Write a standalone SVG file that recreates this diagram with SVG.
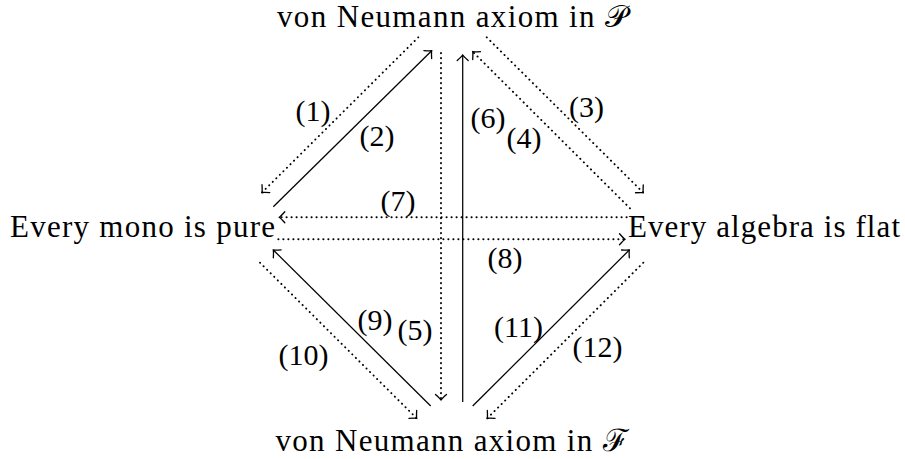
<svg xmlns="http://www.w3.org/2000/svg" width="905" height="459" viewBox="0 0 905 459">
<style>
text{font-family:"Liberation Serif","DejaVu Serif",serif;fill:#000}
.node{font-size:31px}
.lab{font-size:30px;text-anchor:middle}
.solid{fill:none;stroke:#000;stroke-width:1.25}
.dot{fill:none;stroke:#000;stroke-width:1.9;stroke-linecap:round;stroke-dasharray:0.2 4.8}
</style>
<defs>
<marker id="tip" markerUnits="userSpaceOnUse" markerWidth="16" markerHeight="16" viewBox="-8 -8 16 16" refX="0" refY="0" orient="auto">
<path d="M-5.5,-5.5 Q-1.5,-1 0,0 Q-1.5,1 -5.5,5.5" fill="none" stroke="#000" stroke-width="1.3" stroke-linecap="round"/>
</marker>
</defs>
<g id="node-top"><text class="node" x="452" y="27" text-anchor="middle" textLength="350">von Neumann axiom in 𝒫</text></g>
<g id="node-left"><text class="node" x="10" y="237" textLength="265">Every mono is pure</text></g>
<g id="node-right"><text class="node" x="628" y="237" textLength="272">Every algebra is flat</text></g>
<g id="node-bottom"><text class="node" x="452" y="451" text-anchor="middle" textLength="353">von Neumann axiom in ℱ</text></g>
<g id="connectors">
<path class="dot" d="M418.3,37.3 L262,192.5" marker-end="url(#tip)"/>
<path class="solid" d="M273.3,206.7 L431.7,50.7" marker-end="url(#tip)"/>
<path class="dot" d="M486.7,37.3 L643.3,192.7" marker-end="url(#tip)"/>
<path class="dot" d="M630,208.3 L472.7,51.7" marker-end="url(#tip)"/>
<path class="dot" d="M441,53 L441,400" marker-end="url(#tip)"/>
<path class="solid" d="M462.7,402 L462.7,55" marker-end="url(#tip)"/>
<path class="dot" d="M626.7,217.3 L279.3,217.3" marker-end="url(#tip)"/>
<path class="dot" d="M278.3,239.3 L625,239.3" marker-end="url(#tip)"/>
<path class="solid" d="M430.7,406 L273.3,250" marker-end="url(#tip)"/>
<path class="dot" d="M260,262.7 L416.7,418.3" marker-end="url(#tip)"/>
<path class="solid" d="M472.7,406 L629.3,250" marker-end="url(#tip)"/>
<path class="dot" d="M643.3,262.7 L487.3,418.3" marker-end="url(#tip)"/>
</g>
<g id="labels">
<text class="lab" x="313" y="121">(1)</text>
<text class="lab" x="377" y="146">(2)</text>
<text class="lab" x="586.5" y="117">(3)</text>
<text class="lab" x="524" y="148">(4)</text>
<text class="lab" x="415" y="340">(5)</text>
<text class="lab" x="488" y="128">(6)</text>
<text class="lab" x="398" y="211">(7)</text>
<text class="lab" x="505" y="268">(8)</text>
<text class="lab" x="375" y="330">(9)</text>
<text class="lab" x="303.5" y="365">(10)</text>
<text class="lab" x="518.5" y="337">(11)</text>
<text class="lab" x="597.5" y="357">(12)</text>
</g>
</svg>
